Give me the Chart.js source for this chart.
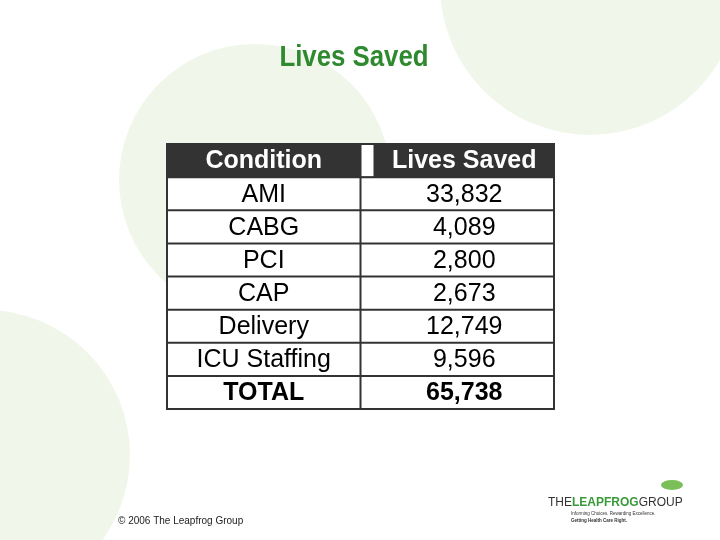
<!DOCTYPE html>
<html>
<head>
<meta charset="utf-8">
<script src="https://cdn.jsdelivr.net/npm/chart.js@4"></script>
<style>
  html, body { margin: 0; padding: 0; background: #fff; }
  #wrap { width: 720px; height: 540px; }
</style>
</head>
<body>
<div id="wrap"><canvas id="table"></canvas></div>
<script>
// Table data
const conditions = ['AMI', 'CABG', 'PCI', 'CAP', 'Delivery', 'ICU Staffing', 'TOTAL'];
const livesSaved = [33832, 4089, 2800, 2673, 12749, 9596, 65738];
const headers = ['Condition', 'Lives Saved'];

const rowLabels = ['header'].concat(conditions);

// draws the decorative background and the table cells from the scales
const tablePlugin = {
    id: 'tablePlugin',
    beforeDraw(chart) {
        const ctx = chart.ctx;
        ctx.save();
        ctx.fillStyle = '#f0f7ea';
        [[590, -15, 150], [255, 180, 136], [-15, 455, 145]].forEach(c => {
            ctx.beginPath();
            ctx.arc(c[0], c[1], c[2], 0, Math.PI * 2);
            ctx.fill();
        });
        // title, condensed
        ctx.save();
        ctx.translate(354, 58);
        ctx.scale(0.86, 1);
        ctx.fillStyle = '#2f8a2f';
        ctx.font = 'bold 30px "Liberation Sans", Arial, sans-serif';
        ctx.textAlign = 'center';
        ctx.textBaseline = 'middle';
        ctx.fillText('Lives Saved', 0, 0);
        ctx.restore();
        // footer
        ctx.fillStyle = '#222';
        ctx.font = '10px "Liberation Sans", Arial, sans-serif';
        ctx.textAlign = 'left';
        ctx.textBaseline = 'middle';
        ctx.fillText('\u00A9 2006 The Leapfrog Group', 118, 521);
        // logo
        ctx.font = '12px "Liberation Sans", Arial, sans-serif';
        ctx.fillStyle = '#333';
        let x = 548;
        ctx.fillText('THE', x, 503); x += ctx.measureText('THE').width;
        ctx.font = 'bold 12px "Liberation Sans", Arial, sans-serif';
        ctx.fillStyle = '#3a9a3a';
        ctx.fillText('LEAPFROG', x, 503); x += ctx.measureText('LEAPFROG').width;
        ctx.font = '12px "Liberation Sans", Arial, sans-serif';
        ctx.fillStyle = '#333';
        ctx.fillText('GROUP', x, 503);
        ctx.font = '4.5px "Liberation Sans", Arial, sans-serif';
        ctx.fillText('Informing Choices. Rewarding Excellence.', 571, 514);
        ctx.font = 'bold 4.5px "Liberation Sans", Arial, sans-serif';
        ctx.fillText('Getting Health Care Right.', 571, 521);
        ctx.fillStyle = '#7bbf5a';
        ctx.beginPath();
        ctx.ellipse(672, 485, 11, 5, 0, 0, Math.PI * 2);
        ctx.fill();
        ctx.restore();
    },
    afterDatasetsDraw(chart) {
        const ctx = chart.ctx;
        const xs = chart.scales.x, ys = chart.scales.y;
        const left = xs.getPixelForValue(0), mid = xs.getPixelForValue(1), right = xs.getPixelForValue(2);
        const band = ys.getPixelForValue(1) - ys.getPixelForValue(0);
        const tableTop = ys.getPixelForValue(0) - band / 2;
        const bottom = ys.getPixelForValue(rowLabels.length - 1) + band / 2;
        ctx.save();
        rowLabels.forEach((lab, i) => {
            const top = ys.getPixelForValue(i) - band / 2;
            ctx.fillStyle = i === 0 ? '#333333' : '#ffffff';
            ctx.fillRect(left, top, right - left, band);
        });
        ctx.strokeStyle = '#333';
        ctx.lineWidth = 2;
        rowLabels.forEach((lab, i) => {
            const top = ys.getPixelForValue(i) - band / 2;
            ctx.beginPath();
            ctx.moveTo(left, top); ctx.lineTo(right, top);
            ctx.stroke();
        });
        ctx.strokeRect(left, tableTop, right - left, bottom - tableTop);
        ctx.beginPath(); ctx.moveTo(mid, tableTop); ctx.lineTo(mid, bottom); ctx.stroke();
        ctx.fillStyle = '#fff';
        ctx.fillRect(mid + 1, tableTop + 1, 12, band - 2);

        ctx.textAlign = 'center';
        ctx.textBaseline = 'middle';
        rowLabels.forEach((lab, i) => {
            const cy = ys.getPixelForValue(i) + 1;
            let a, b;
            if (i === 0) {
                ctx.fillStyle = '#fff';
                ctx.font = 'bold 25px "Liberation Sans", Arial, sans-serif';
                a = headers[0]; b = headers[1];
            } else {
                ctx.fillStyle = '#000';
                const bold = lab === 'TOTAL';
                ctx.font = (bold ? 'bold ' : '') + '25px "Liberation Sans", Arial, sans-serif';
                a = lab; b = livesSaved[i - 1].toLocaleString('en-US');
            }
            ctx.fillText(a, (left + mid) / 2, cy);
            ctx.fillText(b, (mid + right) / 2 + 7, cy);
        });
        ctx.restore();
    }
};

new Chart(document.getElementById('table'), {
    type: 'bar',
    data: {
        labels: rowLabels,
        datasets: [{ data: rowLabels.map(() => 0), backgroundColor: 'rgba(0,0,0,0)' }]
    },
    options: {
        indexAxis: 'y',
        responsive: true,
        maintainAspectRatio: false,
        animation: false,
        layout: { padding: { left: 167, right: 166, top: 144, bottom: 131 } },
        scales: {
            x: { type: 'linear', min: 0, max: 2, display: false },
            y: { type: 'category', offset: true, display: false }
        },
        plugins: { legend: { display: false }, tooltip: { enabled: false } }
    },
    plugins: [tablePlugin]
});
</script>
</body>
</html>
